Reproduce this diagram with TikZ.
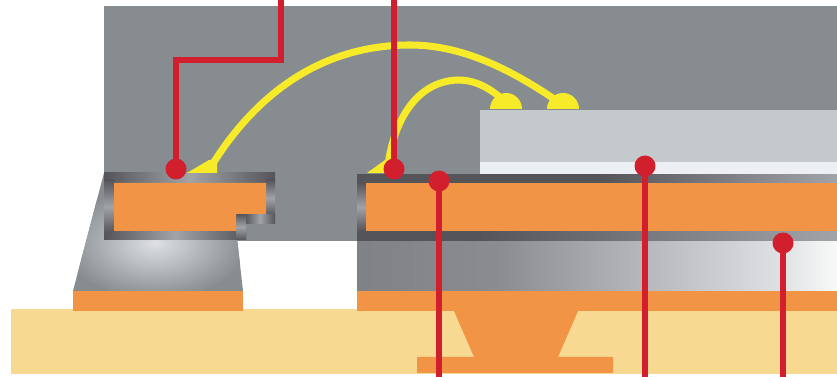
\documentclass[tikz,border=0pt]{standalone}
\usepackage{xcolor}
\definecolor{moldgray}{rgb}{0.53, 0.55, 0.57}
\definecolor{shadowgray}{rgb}{0.50, 0.51, 0.52}
\definecolor{midgray}{rgb}{0.54, 0.55, 0.57}
\definecolor{palegray}{rgb}{0.87, 0.88, 0.89}
\definecolor{framedark}{rgb}{0.33, 0.33, 0.35}
\definecolor{framelight}{rgb}{0.63, 0.64, 0.66}
\definecolor{copperorange}{rgb}{0.95, 0.58, 0.27}
\definecolor{substratesand}{rgb}{0.97, 0.85, 0.57}
\definecolor{wireyellow}{rgb}{0.97, 0.92, 0.16}
\definecolor{leaderred}{rgb}{0.82, 0.12, 0.18}
\definecolor{diegray}{rgb}{0.77, 0.79, 0.80}
\definecolor{attachwhite}{rgb}{0.93, 0.94, 0.95}
\begin{document}
\begin{tikzpicture}[
		x=0.02cm, y=-0.02cm,
		copper/.style={fill=copperorange},
		wirestyle/.style={draw=wireyellow, line width=4pt},
		leader/.style={draw=leaderred, line width=3pt},
		leaderdot/.style={circle, fill=leaderred, inner sep=0pt, outer sep=0pt, minimum size=0.42cm},
		hbar/.style={left color=framedark, right color=framedark, middle color=framelight, shading angle=90},
		vbar/.style={top color=framedark, bottom color=framedark, middle color=framelight},
		fadebar/.style={left color=framedark, right color=framelight}
	]
	\useasboundingbox (0,0) rectangle (837,377);
	% substrate and mold body
	\fill[substratesand] (11,309) rectangle (837,374);
	\fill[moldgray] (104,6) rectangle (837,241);
	\fill[moldgray] (104,173) -- (73,291) -- (243,291) -- (237,238) -- cycle;
	\begin{scope}
		\clip (104,173) -- (73,291) -- (243,291) -- (237,238) -- cycle;
		\shade[inner color=palegray, outer color=moldgray] (155,243) ellipse (92 and 56);
	\end{scope}
	\shade[left color=shadowgray, right color=midgray] (357,241) rectangle (500,291);
	\shade[left color=midgray, right color=palegray] (499,241) rectangle (780,291);
	\shade[left color=palegray, right color=white!95!gray] (779,241) rectangle (837,291);
	% left lead
	\shade[hbar] (104,173) rectangle (275,183);
	\shade[hbar] (104,231) rectangle (246,240);
	\shade[vbar] (104,180) rectangle (114,233);
	\shade[vbar] (266,180) rectangle (275,216);
	\shade[hbar] (245,215) rectangle (275,224);
	\shade[vbar] (236,214) rectangle (246,240);
	\fill[copper] (114,183) -- (266,183) -- (266,214) -- (236,214) -- (236,231) -- (114,231) -- cycle;
	% right lead
	\fill[framedark] (357,174) rectangle (600.5,183);
	\shade[fadebar] (600,174) rectangle (837,183);
	\fill[framedark] (357,231) rectangle (480.5,241);
	\shade[fadebar] (480,231) rectangle (837,241);
	\shade[vbar] (357,183) rectangle (366,231);
	\fill[copper] (366,183) rectangle (837,231);
	% die
	\fill[diegray] (480,110) rectangle (837,162);
	\fill[attachwhite] (480,162) rectangle (837,174);
	% pads and via
	\fill[copper] (73,291) rectangle (243,311);
	\fill[copper] (357,291) rectangle (837,311);
	\fill[copper] (454,311) -- (474,357) -- (417,357) -- (417,373) -- (613,373) -- (613,357) -- (558,357) -- (578,311) -- cycle;
	% bond wires
	\fill[wireyellow] (187,173) -- (209,160) -- (217,160) -- (217,173) -- cycle;
	\fill[wireyellow] (367,173) -- (385,160) -- (397,160) -- (397,173) -- cycle;
	\fill[wireyellow] (490,109) arc[start angle=180, end angle=0, x radius=16, y radius=-16] -- cycle;
	\fill[wireyellow] (547,109) arc[start angle=180, end angle=0, x radius=16, y radius=-16] -- cycle;
	\draw[wirestyle] (212,165) .. controls (262,85) and (330,45) .. (410,45) .. controls (465,45) and (515,72) .. (560,103);
	\draw[wirestyle] (388,165) .. controls (395,115) and (420,81) .. (458,80) .. controls (475,80) and (490,88) .. (503,100);
	% leaders
	\node[leaderdot] (topdot) at (176,169) {};
	\node[leaderdot] (middot) at (394,169) {};
	\node[leaderdot] (leaddot) at (439,181) {};
	\node[leaderdot] (diedot) at (645,166) {};
	\node[leaderdot] (molddot) at (783,243) {};
	\coordinate (topend) at (281,0);
	\coordinate (midend) at (394,0);
	\coordinate (leadend) at (439,377);
	\coordinate (dieend) at (645,377);
	\coordinate (moldend) at (783,377);
	\draw[leader] (topend) -- (281,60) -- (176,60) -- (topdot.center);
	\draw[leader] (midend) -- (middot.center);
	\draw[leader] (leaddot.center) -- (leadend);
	\draw[leader] (diedot.center) -- (dieend);
	\draw[leader] (molddot.center) -- (moldend);
\end{tikzpicture}
\end{document}
